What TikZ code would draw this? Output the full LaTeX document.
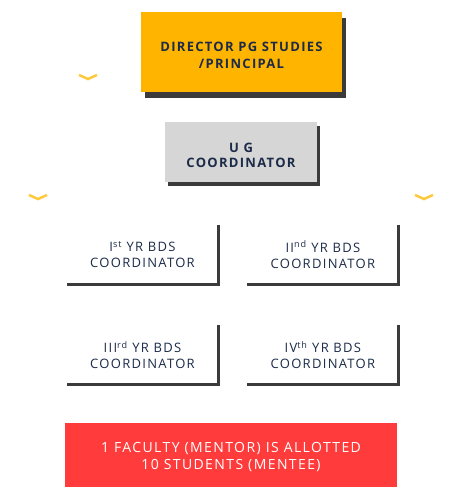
\documentclass[tikz,border=0pt]{standalone}
\usepackage{fontspec}
\setmainfont{Open Sans}
\newfontfamily\trackfont[LetterSpace=10]{Open Sans}
\usetikzlibrary{positioning, shadows}
\definecolor{navyink}{HTML}{1B2B48}
\definecolor{gold}{HTML}{FFB400}
\definecolor{ugrey}{HTML}{D6D6D6}
\definecolor{alert}{HTML}{FF3B3B}
\definecolor{edgegrey}{HTML}{3B3B3B}
\definecolor{chev}{HTML}{FFC93C}

\begin{document}
\begin{tikzpicture}[
  x=1pt, y=-1pt,
  font=\trackfont\fontsize{13}{16}\selectfont,
  head/.style={fill=gold, minimum width=201pt, minimum height=80pt, align=center, text=navyink,
    font=\trackfont\bfseries\fontsize{13}{17}\selectfont,
    drop shadow={shadow xshift=4pt, shadow yshift=-6pt, fill=edgegrey, opacity=1}},
  ugbox/.style={fill=ugrey, minimum width=152pt, minimum height=60pt, align=center, text=navyink,
    font=\trackfont\bfseries\fontsize{13}{14.5}\selectfont,
    drop shadow={shadow xshift=3pt, shadow yshift=-4pt, fill=edgegrey, opacity=1}},
  yrbox/.style={minimum width=151pt, minimum height=59pt, align=center, text=navyink},
  yredge/.style={draw=edgegrey, line width=3pt},
  note/.style={fill=alert, minimum width=332pt, minimum height=64pt, align=center, text=white,
    font=\trackfont\fontsize{14}{17}\selectfont},
  chevron/.style={draw=chev, line width=2.5pt},
]
  \useasboundingbox (0,0) rectangle (470,501);

  % top of the chart
  \node[head]  (dir) at (241.5,52) {\rule{0pt}{15.5pt}DIRECTOR PG STUDIES\\/PRINCIPAL};
  \node[ugbox] (ug)  at (241,152)  {\rule{0pt}{16pt}U G\\COORDINATOR};

  % year coordinators
  \node[yrbox] (y1) at (142.5,254.5) {I\textsuperscript{st} YR BDS\\COORDINATOR};
  \node[yrbox, right=29pt of y1] (y2) {II\textsuperscript{nd} YR BDS\\COORDINATOR};
  \node[yrbox, below=41pt of y1] (y3) {III\textsuperscript{rd} YR BDS\\COORDINATOR};
  \node[yrbox, right=29pt of y3] (y4) {IV\textsuperscript{th} YR BDS\\COORDINATOR};
  \foreach \b in {y1, y2, y3, y4} \draw[yredge] (\b.north east) -- (\b.south east) -- (\b.south west);

  \node[note] (mentor) at (231,455) {\rule{0pt}{13.5pt}1 FACULTY (MENTOR) IS ALLOTTED\\10 STUDENTS (MENTEE)};

  \foreach \cx/\cy in {88/77, 38/197, 424/197}
    \draw[chevron] (\cx-9,\cy-2) -- (\cx,\cy+2) -- (\cx+9,\cy-2);
\end{tikzpicture}
\end{document}
